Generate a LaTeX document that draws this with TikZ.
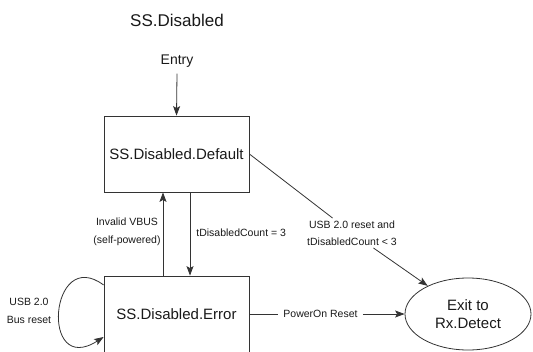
\documentclass[tikz,border=0pt]{standalone}
\usepackage{fontspec}
\setmainfont{Liberation Sans}
\usetikzlibrary{arrows.meta,shapes.geometric}
\begin{document}
\begin{tikzpicture}[x=1pt,y=-1pt,
  line width=0.8pt, draw=black!80,
  every node/.style={text=black!90},
  arr/.style={-{Stealth[length=9.5pt,width=7pt,inset=2pt]}},
  statebox/.style={draw=black!80, rectangle, minimum width=145pt, minimum height=76pt,
    inner sep=0pt, font=\fontsize{15}{18}\selectfont},
  cond/.style={font=\fontsize{10.5}{17.5}\selectfont, align=center, inner sep=2pt},
]
\useasboundingbox (0,0) rectangle (533,351);

% title and entry point
\node[font=\fontsize{17}{20}\selectfont] (title) at (177,20) {SS.Disabled};
\node[font=\fontsize{14}{17}\selectfont, inner sep=1pt] (entry) at (177,61) {Entry};

% states
\node[statebox] (def) at (176.5,154) {SS.Disabled.Default};
\node[statebox] (err) at (176.5,314) {SS.Disabled.Error};
\node[draw=black!80, ellipse, minimum width=126pt, minimum height=72pt, inner sep=0pt,
      align=center, font=\fontsize{15}{17.5}\selectfont] (exit) at (468,314)
      {Exit to\\Rx.Detect};

% entry arrow
\draw[arr] ([yshift=-5pt]entry.south) -- (def.north);

% between default and error
\draw[arr] ([xshift=-13.5pt]err.north) -- ([xshift=-13.5pt]def.south);
\draw[arr] ([xshift=13.5pt]def.south) -- ([xshift=13.5pt]err.north);
\node[cond] (vbus) at (127,232) {Invalid VBUS\\(self-powered)};
\node[cond, anchor=west] (cnt) at (194,233) {tDisabledCount = 3};

% self loop on error
\draw[arr] ([yshift=29pt]err.west) .. controls +(-54,-40) and +(-64,41) .. ([yshift=-23pt]err.west);
\node[cond] (busreset) at (29,311) {USB 2.0\\Bus reset};

% default to exit
\node[cond] (usbrst) at (352,233) {USB 2.0 reset and\\tDisabledCount < 3};
\draw (def.east) -- (usbrst);
\draw[arr] (usbrst) -- (exit);

% error to exit
\node[cond, inner sep=5pt] (pwr) at (320.5,314) {PowerOn Reset};
\draw (err.east) -- (pwr.west);
\draw[arr] (pwr.east) -- (exit.west);
\end{tikzpicture}
\end{document}
